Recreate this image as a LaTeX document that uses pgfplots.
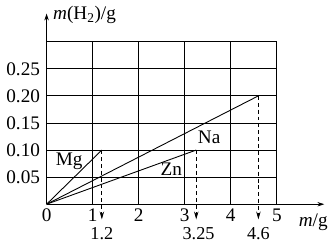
\documentclass[border=0pt]{standalone}
\usepackage{pgfplots}
\pgfplotsset{compat=1.18}
\usepackage{fontspec}
\setmainfont{Liberation Serif}
\usetikzlibrary{arrows.meta}
\begin{document}
\fontsize{19.5bp}{22bp}\selectfont
\begin{tikzpicture}
\begin{axis}[
  scale only axis, width=282bp, height=193.7bp,
  xmin=0, xmax=6.03, ymin=0, ymax=0.352,
  axis lines=left,
  axis line style={line width=0.9bp, -{Stealth[length=7bp,width=4.5bp]}},
  xtick={0,1,2,3,4,5}, ytick={0.05,0.10,0.15,0.20,0.25},
  major tick length=0pt,
  /pgf/number format/assume math mode=true,
  ticklabel style={font=\fontsize{19.5bp}{22bp}\selectfont},
  yticklabel style={/pgf/number format/.cd, fixed, fixed zerofill, precision=2},
  xticklabel style={anchor=center, yshift=-11.5bp, inner sep=0bp},
  clip=false,
]
\pgfplotsinvokeforeach{1,2,3,4,5}{\draw[line width=0.9bp] (axis cs:#1,0) -- (axis cs:#1,0.3);}
\pgfplotsinvokeforeach{0.05,0.1,0.15,0.2,0.25,0.3}{\draw[line width=0.9bp] (axis cs:0,#1) -- (axis cs:5,#1);}
\addplot[black, line width=0.9bp] coordinates {(0,0) (1.2,0.1)};
\addplot[black, line width=0.9bp] coordinates {(0,0) (4.6,0.2)};
\addplot[black, line width=0.9bp] coordinates {(0,0) (3.25,0.1)};
\addplot[black, line width=0.8bp, dash pattern=on 4bp off 3bp, -{Stealth[length=8bp,width=4.5bp]}] coordinates {(1.2,0.1) (1.2,-0.028)};
\addplot[black, line width=0.8bp, dash pattern=on 4bp off 3bp, -{Stealth[length=8bp,width=4.5bp]}] coordinates {(3.25,0.1) (3.25,-0.028)};
\addplot[black, line width=0.8bp, dash pattern=on 4bp off 3bp, -{Stealth[length=8bp,width=4.5bp]}] coordinates {(4.6,0.2) (4.6,-0.028)};
\node[inner sep=0bp, font=\fontsize{18.5bp}{21bp}\selectfont] at (axis cs:1.2,0) [yshift=-29.5bp] {1.2};
\node[inner sep=0bp, font=\fontsize{18.5bp}{21bp}\selectfont] at (axis cs:3.3,0) [yshift=-29.5bp] {3.25};
\node[inner sep=0bp, font=\fontsize{18.5bp}{21bp}\selectfont] at (axis cs:4.6,0) [yshift=-29.5bp] {4.6};
\node at (axis cs:0.49,0.08) {Mg};
\node at (axis cs:3.53,0.124) {Na};
\node at (axis cs:2.71,0.064) {Zn};
\node at (axis cs:5.79,-0.033) {\textit{m}/g};
\node[anchor=west] at (axis cs:0,0.349) {\textit{m}(H\textsubscript{2})/g};
\coordinate (O) at (axis cs:0,0);
\end{axis}
\path (O) ++(-45bp,-39.3bp) rectangle ++(334bp,246bp);
\end{tikzpicture}
\end{document}
